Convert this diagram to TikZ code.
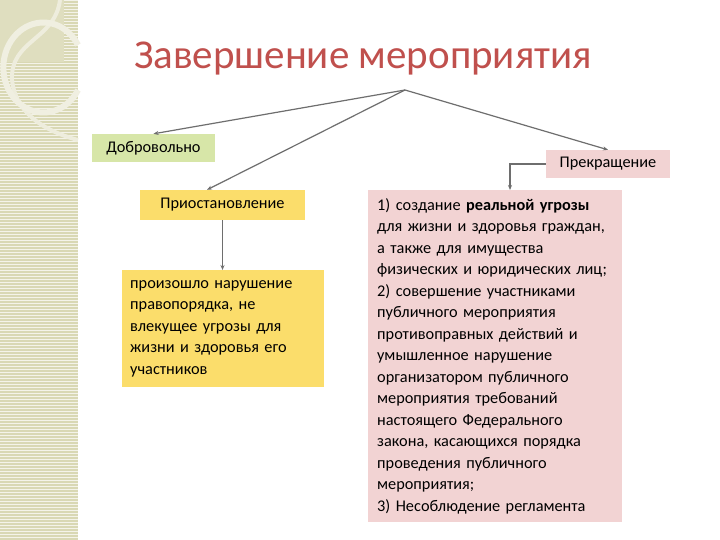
\documentclass[tikz,border=0pt]{standalone}
\usepackage{fontspec}
\setmainfont{Carlito}
\usetikzlibrary{arrows.meta}
\definecolor{strip}{HTML}{D9D8B4}
\definecolor{titlec}{HTML}{C0504D}
\definecolor{greenb}{HTML}{D7E6A8}
\definecolor{pinkb}{HTML}{F2D3D3}
\definecolor{yellowb}{HTML}{FBDD6B}
\definecolor{linec}{HTML}{6E6E6E}
\tikzset{
  box/.style={fill=#1, inner sep=0pt, font=\fontsize{16.3}{21.5}\selectfont},
  conn/.style={draw=linec, line width=1.2pt, -{Stealth[length=5pt,width=4pt]}},
}
\begin{document}
\begin{tikzpicture}[x=1pt,y=-1pt]
\useasboundingbox (0,0) rectangle (720,540);
\fill[white] (0,0) rectangle (720,540);
% decorative strip
\fill[strip] (0,0) rectangle (78,540);
\foreach \yy in {0,3,...,540} \draw[white!70!strip, line width=0.6pt] (0,\yy) -- (78,\yy);
\fill[white!15!strip] (0,0) rectangle (64,62);
\draw[white!55!strip, line width=4pt] (60,0) .. controls (55,40) and (10,40) .. (12,80) .. controls (15,110) and (40,130) .. (78,140);
\draw[white!60!strip, line width=6pt] (78,90) arc (30:330:40 and 45);
% title
\node[text=titlec, font=\fontsize{41}{46}\selectfont] (title) at (363,59) {Завершение мероприятия};
\coordinate (hub) at (405,90);
% boxes
\node[box=greenb, minimum width=123, minimum height=28] (dobr) at (153.5,148) {Добровольно};
\node[box=pinkb, minimum width=124, minimum height=28] (prek) at (608,164) {Прекращение};
\node[box=yellowb, minimum width=165, minimum height=30] (prio) at (222.5,205) {Приостановление};
\node[box=yellowb, minimum width=198, minimum height=117, text width=186, align=left, anchor=north west, inner xsep=8pt, inner ysep=4pt] (narush) at (122,270) {произошло нарушение\\правопорядка, не\\влекущее угрозы для\\жизни и здоровья его\\участников};
\node[box=pinkb, minimum width=248, minimum height=332, text width=236, align=left, anchor=north west, inner xsep=9pt, inner ysep=5pt] (ugroz) at (368,190) {1) создание \textbf{реальной угрозы}\\для жизни и здоровья граждан,\\а также для имущества\\физических и юридических лиц;\\2) совершение участниками\\публичного мероприятия\\противоправных действий и\\умышленное нарушение\\организатором публичного\\мероприятия требований\\настоящего Федерального\\закона, касающихся порядка\\проведения публичного\\мероприятия;\\3) Несоблюдение регламента};
% connectors
\draw[conn] (hub) -- (dobr.north);
\draw[conn] (hub) -- (prio.north -| 207,0);
\draw[conn] (hub) -- (prek.north);
\draw[conn] (prio.south) -- (prio.south |- narush.north);
\draw[conn] (prek.west) -- (510,164) -- (510,190);
\end{tikzpicture}
\end{document}
